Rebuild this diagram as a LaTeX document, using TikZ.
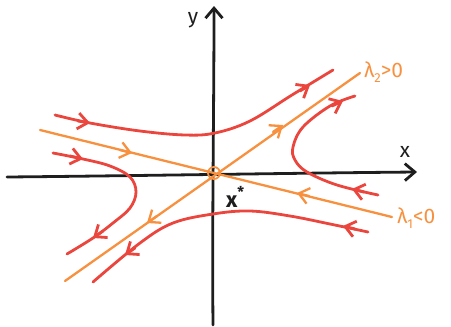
\documentclass[tikz,border=0pt]{standalone}
\usepackage{fontspec}
\setmainfont{Fira Sans}
\usetikzlibrary{arrows.meta}
\definecolor{flowred}{HTML}{EA463D}
\definecolor{eigorange}{HTML}{F7913F}
\definecolor{axisblack}{HTML}{1E1E1E}
\tikzset{
  chev/.tip={Straight Barb[length=10pt,width=16pt]},
  axisline/.style={line width=2.8pt, line cap=round, draw=axisblack,
     -{Straight Barb[length=10pt,width=17pt,line width=2.8pt]}},
  flow/.style={line width=2.8pt, line cap=round, draw=flowred},
  eig/.style={line width=2.3pt, line cap=round, draw=eigorange},
  lab/.style={font=\fontsize{21}{23}\selectfont, inner sep=0pt},
}
\begin{document}
\begin{tikzpicture}[x=1pt,y=-1pt]
\useasboundingbox (0,0) rectangle (451,327);
% axes
\draw[axisline] (7,177) .. controls (120,176) and (300,173) .. (417,172);
\draw[axisline] (213,325) .. controls (212,220) and (214,110) .. (214,6);
\node[lab, text=axisblack] (xlab) at (405,152) {x};
\node[lab, text=axisblack] (ylab) at (193,20) {y};
% eigen lines
\draw[eig] (40,130) -- (392,217);
\draw[eig, -chev] (120,150) -- (132,153);
\draw[eig, -chev] (309,196) -- (297,193);
\draw[eig] (65,281) -- (360,73);
\draw[eig, -chev] (157,216) -- (147,223);
\draw[eig, -chev] (273,132) -- (283,125);
\node[lab, text=eigorange, anchor=west] (l2) at (364,72) {λ\raisebox{-0.4ex}{\fontsize{13}{14}\selectfont 2}>0};
\node[lab, text=eigorange, anchor=west] (l1) at (397,218) {λ\raisebox{-0.4ex}{\fontsize{13}{14}\selectfont 1}<0};
% fixed point
\node[draw=eigorange, circle, minimum size=12pt, line width=1.8pt, inner sep=0pt] (fix) at (214,173) {};
\node[font=\fontsize{22}{24}\selectfont\bfseries, text=axisblack, inner sep=0pt] (xstar) at (235,197) {x\raisebox{0.8ex}{\fontsize{15}{16}\selectfont *}};
% trajectories
\draw[flow] plot[smooth, tension=0.6] coordinates
  {(55,115) (90,123) (140,131) (185,135) (215,133) (250,121) (292,95) (333,70)};
\draw[flow, -chev] (78,121) -- (90,123);
\draw[flow, -chev] (300,91) -- (310,85);
\draw[flow] plot[smooth, tension=0.6] coordinates
  {(378,195) (337,185) (307,172) (295,160) (293,147) (303,127) (330,106) (355,96)};
\draw[flow, -chev] (364,192) -- (352,189);
\draw[flow, -chev] (332,106) -- (343,101);
\draw[flow] plot[smooth, tension=0.6] coordinates
  {(53,153) (83,159) (110,166) (130,177) (136,192) (130,208) (113,223) (93,238) (67,254)};
\draw[flow, -chev] (70,156) -- (83,159);
\draw[flow, -chev] (103,231) -- (93,238);
\draw[flow] plot[smooth, tension=0.6] coordinates
  {(368,232) (330,224) (290,216) (250,211) (213,214) (173,223) (140,243) (93,282)};
\draw[flow, -chev] (355,229) -- (343,226);
\draw[flow, -chev] (135,248) -- (125,255);
\end{tikzpicture}
\end{document}
